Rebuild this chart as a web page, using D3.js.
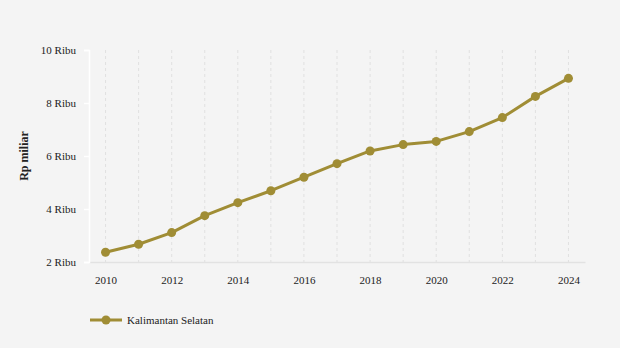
<!DOCTYPE html>
<html>
<head>
<meta charset="utf-8">
<script src="https://cdn.jsdelivr.net/npm/d3@7"></script>
<style>
  body { margin: 0; background: #f4f4f4; }
  svg, svg text { font-family: "Liberation Serif", "DejaVu Serif", serif !important; }
</style>
</head>
<body>
<svg id="chart" width="620" height="348"></svg>
<script>
// PDRB Kalimantan Selatan, ribu Rp miliar
const years = [2010, 2011, 2012, 2013, 2014, 2015, 2016, 2017, 2018, 2019, 2020, 2021, 2022, 2023, 2024];
const values = [2.37, 2.67, 3.11, 3.75, 4.24, 4.69, 5.20, 5.71, 6.19, 6.43, 6.55, 6.92, 7.45, 8.25, 8.93];
const yTicks = [2, 4, 6, 8, 10];
const xTicks = [2010, 2012, 2014, 2016, 2018, 2020, 2022, 2024];
const seriesName = "Kalimantan Selatan";

const color = "#a08d35";
const svg = d3.select("#chart");
const margin = { left: 89, right: 35, top: 50, bottom: 86 };
const width = 620, height = 348;

const x = d3.scaleLinear()
    .domain([2009.5, 2024.5])
    .range([margin.left, width - margin.right]);
const y = d3.scaleLinear()
    .domain([2, 10])
    .range([height - margin.bottom, margin.top]);

// vertical dashed grid, one per year
svg.append("g")
    .selectAll("line")
    .data(years)
    .enter().append("line")
    .attr("x1", d => x(d)).attr("x2", d => x(d))
    .attr("y1", y(10)).attr("y2", y(2))
    .attr("stroke", "#e0e0e0")
    .attr("stroke-dasharray", "3,3");

// bottom axis
const xAxis = svg.append("g")
    .attr("transform", `translate(0,${y(2)})`)
    .call(d3.axisBottom(x).tickValues(xTicks).tickFormat(d3.format("d")).tickSize(0).tickPadding(14));
xAxis.attr("font-family", null);
xAxis.select(".domain").attr("stroke", "#e2e2e2").attr("stroke-width", 1.5);
xAxis.selectAll("text").attr("font-size", 11).attr("fill", "#222");

// left axis
const yAxis = svg.append("g")
    .attr("transform", `translate(${margin.left},0)`)
    .call(d3.axisLeft(y).tickValues(yTicks).tickFormat(d => d + " Ribu").tickSize(5).tickPadding(8));
yAxis.attr("font-family", null);
yAxis.select(".domain").attr("stroke", "#ffffff").attr("stroke-width", 1.5);
yAxis.selectAll(".tick line").attr("stroke", "#ffffff").attr("stroke-width", 1.5);
yAxis.selectAll("text").attr("font-size", 11).attr("fill", "#222");

svg.append("text")
    .attr("transform", `translate(28,${(y(2) + y(10)) / 2}) rotate(-90)`)
    .attr("text-anchor", "middle")
    .attr("font-size", 12)
    .attr("font-weight", "bold")
    .attr("fill", "#222")
    .text("Rp miliar");

// series line and markers
const data = years.map((yr, i) => ({ year: yr, value: values[i] }));
svg.append("path")
    .datum(data)
    .attr("fill", "none")
    .attr("stroke", color)
    .attr("stroke-width", 3)
    .attr("stroke-linejoin", "round")
    .attr("d", d3.line().x(d => x(d.year)).y(d => y(d.value)));

svg.append("g")
    .selectAll("circle")
    .data(data)
    .enter().append("circle")
    .attr("cx", d => x(d.year))
    .attr("cy", d => y(d.value))
    .attr("r", 4.5)
    .attr("fill", color);

// legend
const legend = svg.append("g").attr("transform", "translate(90,320)");
legend.append("line")
    .attr("x1", 0).attr("x2", 32)
    .attr("stroke", color).attr("stroke-width", 3);
legend.append("circle")
    .attr("cx", 16).attr("r", 4.5).attr("fill", color);
legend.append("text")
    .attr("x", 37).attr("dy", "0.35em")
    .attr("font-size", 11)
    .attr("fill", "#222")
    .text(seriesName);
</script>
</body>
</html>
